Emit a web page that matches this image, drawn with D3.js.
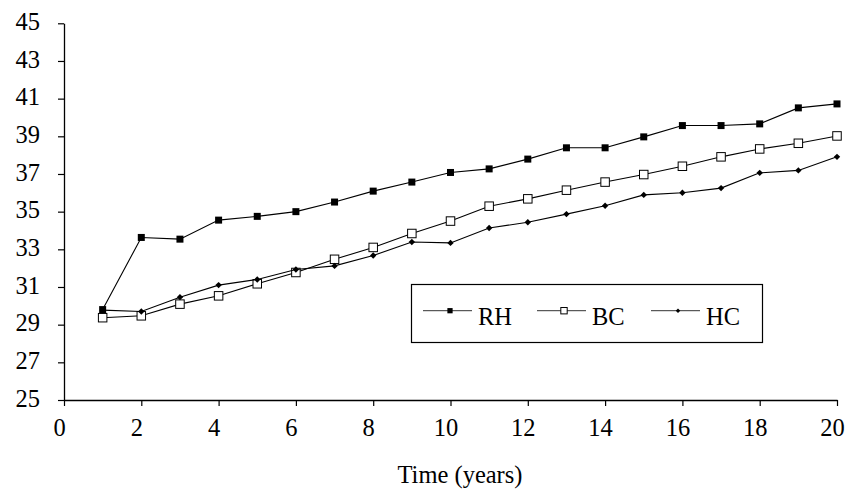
<!DOCTYPE html>
<html>
<head>
<meta charset="utf-8">
<script src="https://cdn.jsdelivr.net/npm/d3@7"></script>
<style>
  body { margin: 0; background: #fff; }
  svg { display: block; }
  svg text { font-family: "Liberation Serif", "Times New Roman", serif !important; fill: #000; }
</style>
</head>
<body>
<svg id="chart" width="852" height="491"></svg>
<script>
const years = [1,2,3,4,5,6,7,8,9,10,11,12,13,14,15,16,17,18,19,20];
const RH = [29.80,33.63,33.54,34.55,34.75,35.00,35.51,36.09,36.57,37.08,37.27,37.79,38.39,38.39,38.97,39.57,39.57,39.66,40.51,40.72];
const BC = [29.37,29.47,30.09,30.53,31.17,31.77,32.47,33.10,33.84,34.50,35.29,35.68,36.14,36.57,36.97,37.41,37.91,38.33,38.63,39.02];
const HC = [29.77,29.70,30.46,31.10,31.40,31.93,32.12,32.67,33.39,33.34,34.13,34.44,34.87,35.31,35.89,36.00,36.25,37.06,37.19,37.91];
const seriesNames = ["RH","BC","HC"];
const xTicks = [0,2,4,6,8,10,12,14,16,18,20];
const yTicks = [25,27,29,31,33,35,37,39,41,43,45];
const xTitle = "Time (years)";

const SERIF = '"Liberation Serif", "Times New Roman", serif';
const svg = d3.select("#chart");
const x = d3.scaleLinear().domain([0,20]).range([64,837]);
const y = d3.scaleLinear().domain([25,45]).range([400,23.3]);
const FS = 24.5;

// axes
const xAxis = svg.append("g").attr("transform","translate(0,400)")
  .call(d3.axisBottom(x).tickValues(xTicks).tickSize(6).tickPadding(13).tickSizeOuter(0));
const yAxis = svg.append("g").attr("transform","translate(64,0)")
  .call(d3.axisLeft(y).tickValues(yTicks).tickSize(6).tickPadding(18).tickSizeOuter(0));
[xAxis,yAxis].forEach(g=>{
  g.attr("font-family",SERIF).attr("font-size",FS);
  g.select(".domain").attr("stroke","#000").attr("stroke-width",1.3);
  g.selectAll(".tick line").attr("stroke","#000").attr("stroke-width",1.2);
  g.selectAll(".tick text").style("font-family",SERIF).style("font-size",FS+"px").attr("fill","#000");
});
xAxis.selectAll(".tick text").attr("dx",-5);
yAxis.selectAll(".tick text").attr("dy","0.25em");

svg.append("text").attr("x",460).attr("y",483).attr("text-anchor","middle")
  .style("font-family",SERIF).style("font-size",FS+"px").text(xTitle);

const data = {RH, BC, HC};
const line = d3.line().x((d,i)=>x(years[i])).y(d=>y(d));

function drawMarker(g, name, cx, cy, scale) {
  if (name === "RH") {
    const s = 7*scale;
    g.append("rect").attr("x",cx-s/2).attr("y",cy-s/2).attr("width",s).attr("height",s).attr("fill","#000");
  } else if (name === "BC") {
    const s = 8.5*scale;
    g.append("rect").attr("x",cx-s/2).attr("y",cy-s/2).attr("width",s).attr("height",s)
      .attr("fill","#fff").attr("stroke","#000").attr("stroke-width",1);
  } else {
    const s = 3.2*scale;
    g.append("path").attr("d",`M${cx},${cy-s}L${cx+s},${cy}L${cx},${cy+s}L${cx-s},${cy}Z`).attr("fill","#000");
  }
}

seriesNames.forEach(name=>{
  const vals = data[name];
  const g = svg.append("g");
  g.append("path").attr("d",line(vals)).attr("fill","none").attr("stroke","#000").attr("stroke-width",1.1);
  vals.forEach((v,i)=>drawMarker(g,name,x(years[i]),y(v),1));
});

// legend
const lg = svg.append("g");
lg.append("rect").attr("x",411.5).attr("y",284.5).attr("width",351).attr("height",58)
  .attr("fill","#fff").attr("stroke","#000").attr("stroke-width",1.2);
const legX = [423, 537, 651];
seriesNames.forEach((name,i)=>{
  const lx = legX[i], ly = 310.7;
  lg.append("line").attr("x1",lx).attr("x2",lx+49).attr("y1",ly).attr("y2",ly).attr("stroke","#333").attr("stroke-width",1);
  drawMarker(lg,name,lx+27,ly, name==="HC"?0.7:0.75);
  lg.append("text").attr("x",lx+55).attr("y",324.5).style("font-family",SERIF).style("font-size",FS+"px").text(name);
});
</script>
</body>
</html>
